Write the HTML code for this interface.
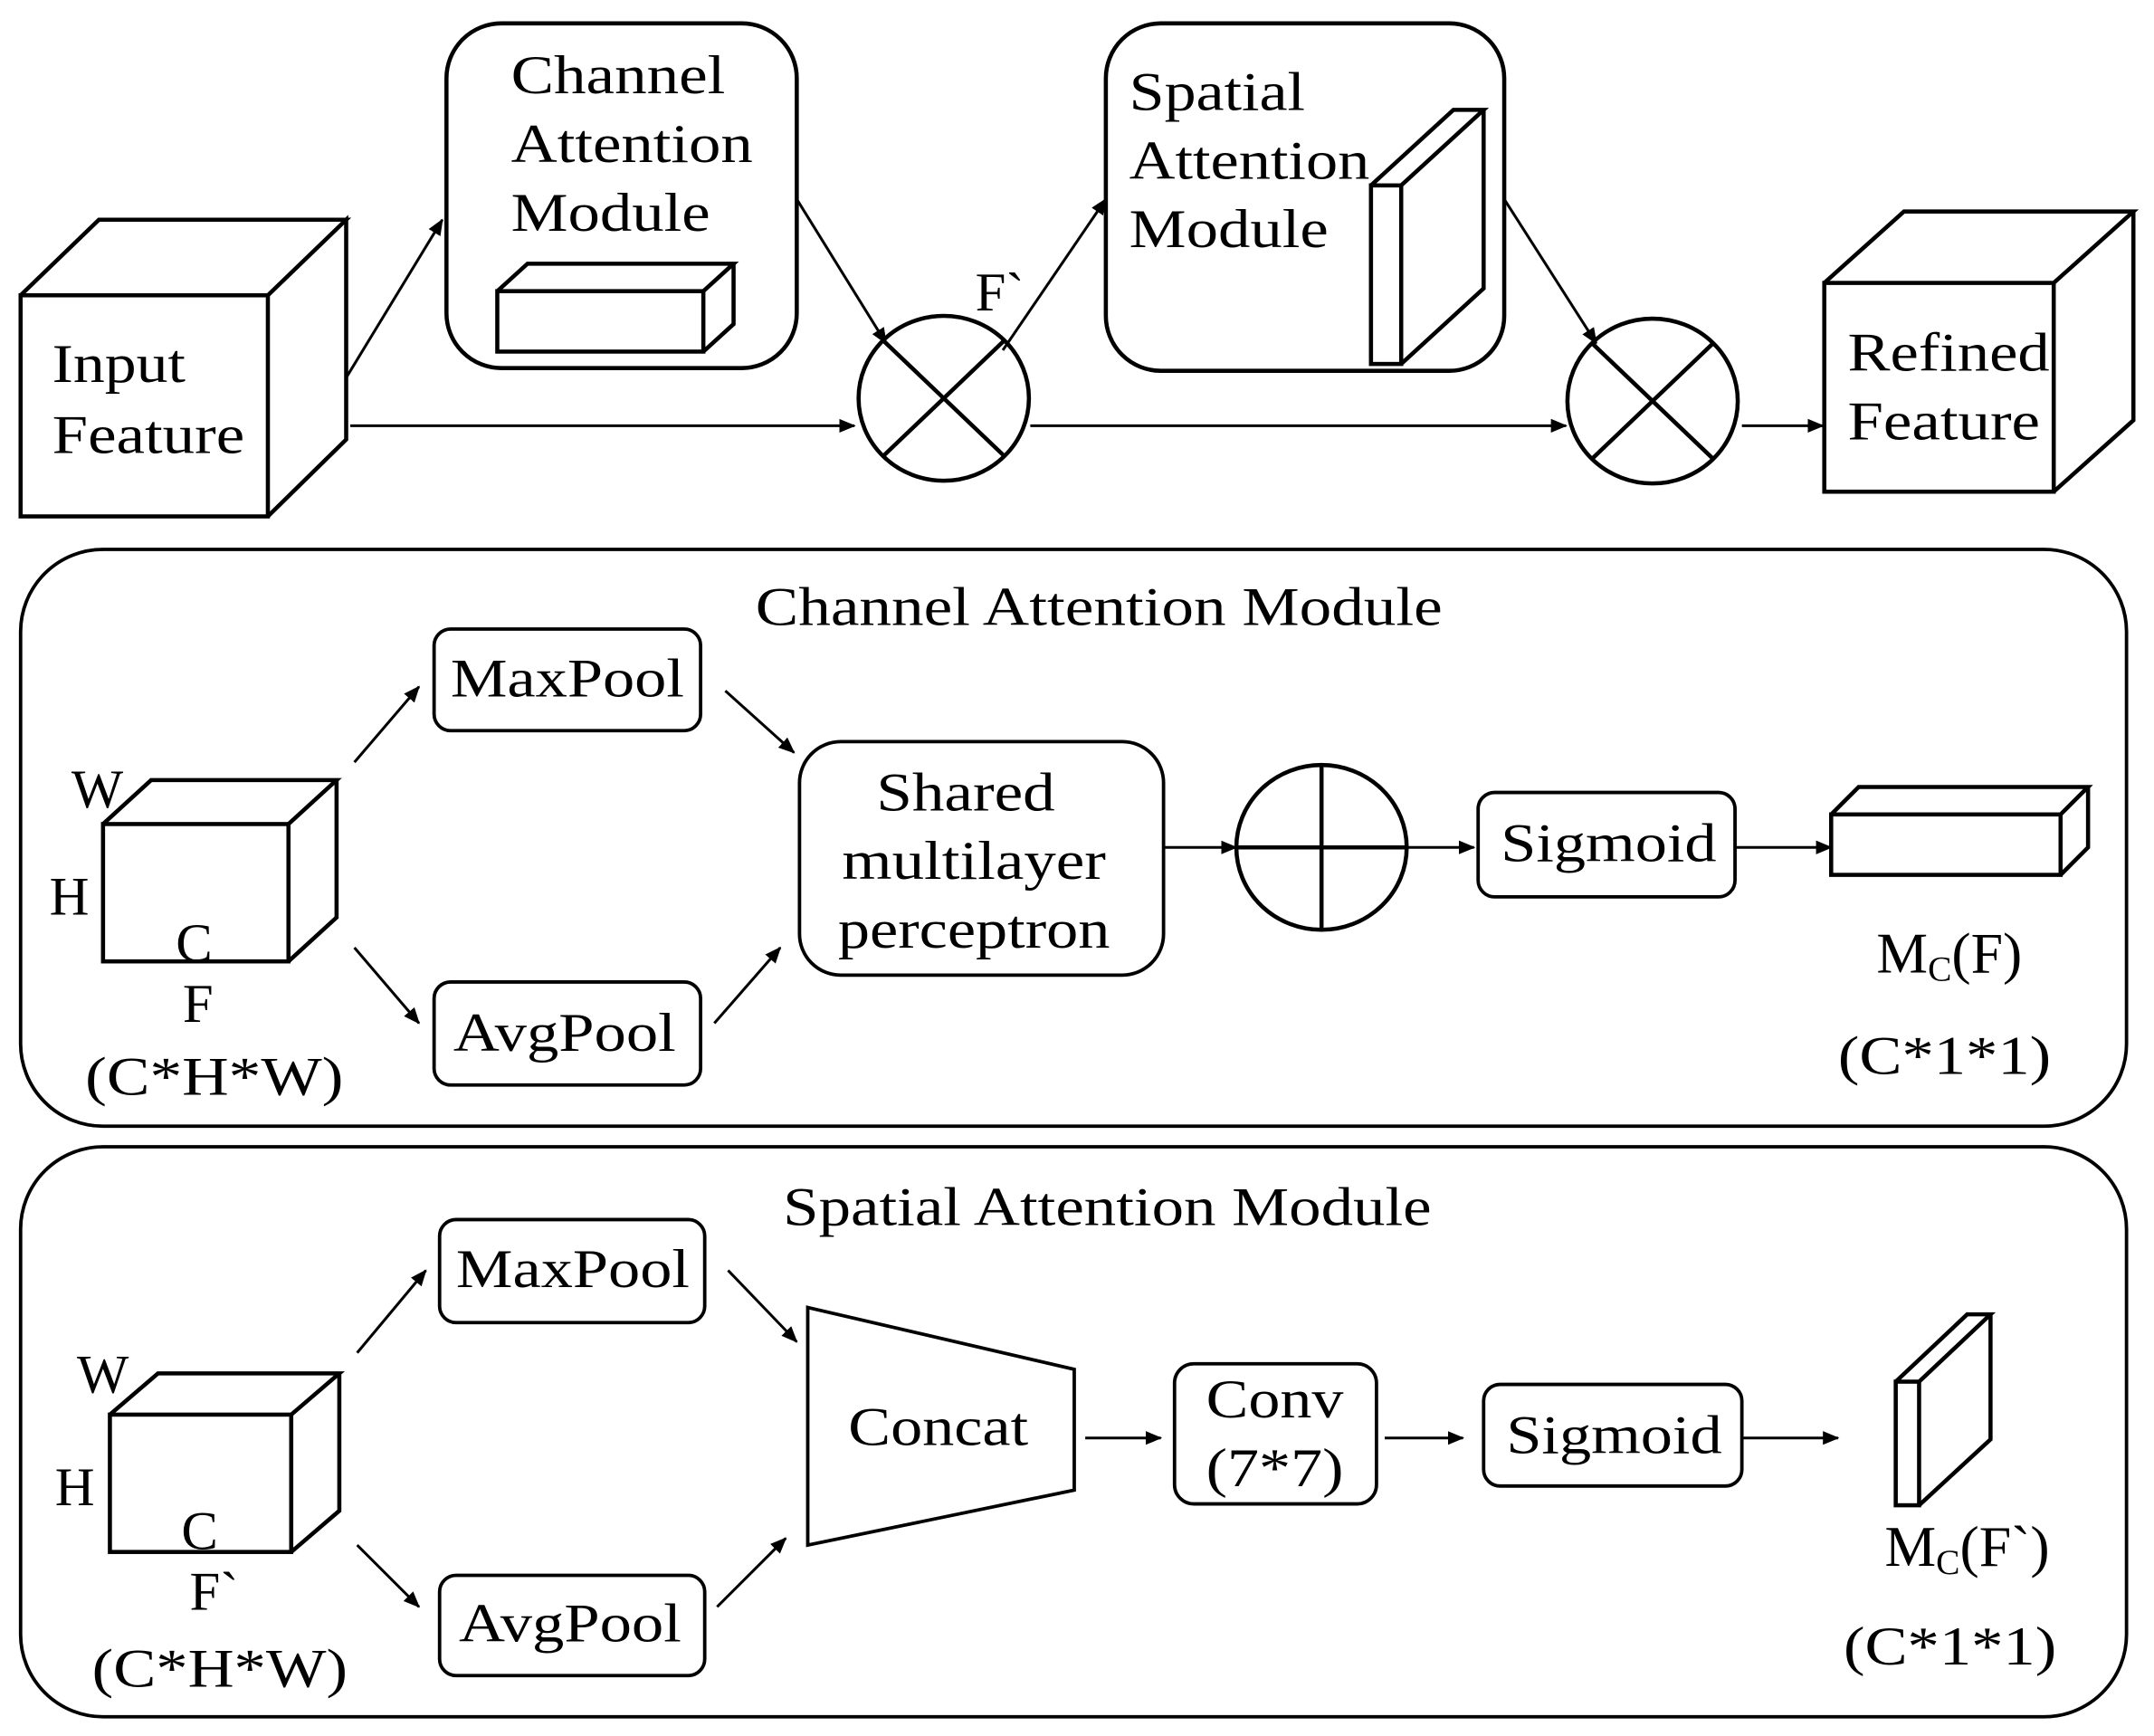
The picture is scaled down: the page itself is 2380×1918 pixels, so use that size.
<!DOCTYPE html>
<html><head><meta charset="utf-8"><style>
html,body{margin:0;padding:0;background:#fff;width:2380px;height:1918px;overflow:hidden}
svg{display:block}
text{font-family:"Liberation Serif",serif;fill:#000}
</style></head><body>
<svg width="2380" height="1918" viewBox="0 0 1568 1264" preserveAspectRatio="none" xmlns="http://www.w3.org/2000/svg">
<defs><marker id="a" markerWidth="12" markerHeight="12" refX="11" refY="6" orient="auto" markerUnits="userSpaceOnUse" viewBox="0 0 12 12"><path d="M0,1 L12,6 L0,11 z" fill="#000"/></marker></defs>
<g fill="none" stroke="#000" stroke-width="3">
<rect x="15" y="215" width="180" height="161" fill="#fff"/>
<path d="M15,215 L72,160 L252,160 L195,215 M195,215 L252,160 L252,320 L195,376"/>
<rect x="325" y="17" width="255" height="251" rx="40"/>
<rect x="362" y="212" width="150" height="44"/>
<path d="M362,212 L384,192 L534,192 L512,212 M512,256 L534,236 L534,192"/>
<rect x="805" y="17" width="290" height="253" rx="40"/>
<rect x="998" y="135" width="22" height="130"/>
<path d="M998,135 L1058,80 L1080,80 L1020,135 M1080,80 L1080,210 L1020,265"/>
<rect x="1328" y="206" width="167" height="152"/>
<path d="M1328,206 L1386,154 L1553,154 L1495,206 M1553,154 L1553,306 L1495,358"/>
<ellipse cx="687" cy="290" rx="62" ry="60"/>
<path d="M643,248 L731,332 M731,248 L643,332"/>
<ellipse cx="1203" cy="292" rx="62" ry="60"/>
<path d="M1159,250 L1247,334 M1247,250 L1159,334"/>
</g>
<g stroke="#000" stroke-width="2" fill="none" marker-end="url(#a)">
<path d="M252,275 L322,160"/><path d="M255,310 L622,310"/>
<path d="M580,145 L645,250"/><path d="M730,255 L805,145"/>
<path d="M750,310 L1140,310"/><path d="M1095,145 L1162,250"/>
<path d="M1268,310 L1327,310"/>
</g>
<g font-size="40">
<text x="38" y="278" textLength="97" lengthAdjust="spacingAndGlyphs">Input</text><text x="38" y="330" textLength="140" lengthAdjust="spacingAndGlyphs">Feature</text>
<text x="372" y="68" textLength="156" lengthAdjust="spacingAndGlyphs">Channel</text><text x="372" y="118" textLength="176" lengthAdjust="spacingAndGlyphs">Attention</text><text x="372" y="168" textLength="145" lengthAdjust="spacingAndGlyphs">Module</text>
<text x="822" y="80" textLength="128" lengthAdjust="spacingAndGlyphs">Spatial</text><text x="822" y="130" textLength="175" lengthAdjust="spacingAndGlyphs">Attention</text><text x="822" y="180" textLength="145" lengthAdjust="spacingAndGlyphs">Module</text>
<text x="710" y="226">F`</text>
<text x="1345" y="270" textLength="147" lengthAdjust="spacingAndGlyphs">Refined</text><text x="1345" y="320" textLength="140" lengthAdjust="spacingAndGlyphs">Feature</text>
</g>
<g fill="none" stroke="#000" stroke-width="3">
<rect x="15" y="400" width="1533" height="420" rx="60" stroke-width="2.5"/>
<rect x="75" y="600" width="135" height="100"/>
<path d="M75,600 L110,568 L245,568 L210,600 M245,568 L245,668 L210,700"/>
<rect x="316" y="458" width="194" height="74" rx="12" stroke-width="2.5"/>
<rect x="316" y="715" width="194" height="75" rx="12" stroke-width="2.5"/>
<rect x="582" y="540" width="265" height="170" rx="30" stroke-width="2.5"/>
<ellipse cx="962" cy="617" rx="62" ry="60"/>
<path d="M900,617 L1024,617 M962,557 L962,677"/>
<rect x="1076" y="577" width="187" height="76" rx="12" stroke-width="2.5"/>
<rect x="1333" y="593" width="167" height="44"/>
<path d="M1333,593 L1353,573 L1520,573 L1500,593 M1520,573 L1520,617 L1500,637"/>
</g>
<g stroke="#000" stroke-width="2" fill="none" marker-end="url(#a)">
<path d="M258,555 L305,500"/><path d="M258,690 L305,745"/>
<path d="M528,503 L578,548"/><path d="M520,745 L568,690"/>
<path d="M847,617 L900,617"/><path d="M1024,617 L1073,617"/><path d="M1263,617 L1333,617"/>
</g>
<g font-size="40">
<text x="800" y="455" text-anchor="middle" textLength="500" lengthAdjust="spacingAndGlyphs">Channel Attention Module</text>
<text x="52" y="588">W</text><text x="36" y="666">H</text><text x="128" y="700">C</text>
<text x="133" y="744">F</text><text x="62" y="797" textLength="188" lengthAdjust="spacingAndGlyphs">(C*H*W)</text>
<text x="413" y="507" text-anchor="middle" textLength="170" lengthAdjust="spacingAndGlyphs">MaxPool</text><text x="411" y="765" text-anchor="middle" textLength="162" lengthAdjust="spacingAndGlyphs">AvgPool</text>
<text x="703" y="590" text-anchor="middle" textLength="130" lengthAdjust="spacingAndGlyphs">Shared</text><text x="709" y="640" text-anchor="middle" textLength="192" lengthAdjust="spacingAndGlyphs">multilayer</text><text x="709" y="690" text-anchor="middle" textLength="198" lengthAdjust="spacingAndGlyphs">perceptron</text>
<text x="1171" y="627" text-anchor="middle" textLength="157" lengthAdjust="spacingAndGlyphs">Sigmoid</text>
<text x="1366" y="708" font-size="42">M<tspan font-size="26" dy="6">C</tspan><tspan dy="-6">(F)</tspan></text>
<text x="1338" y="782" textLength="155" lengthAdjust="spacingAndGlyphs">(C*1*1)</text>
</g>
<g fill="none" stroke="#000" stroke-width="3">
<rect x="15" y="835" width="1533" height="415" rx="60" stroke-width="2.5"/>
<rect x="80" y="1030" width="132" height="100"/>
<path d="M80,1030 L115,1000 L247,1000 L212,1030 M247,1000 L247,1100 L212,1130"/>
<rect x="320" y="888" width="193" height="75" rx="12" stroke-width="2.5"/>
<rect x="320" y="1147" width="193" height="73" rx="12" stroke-width="2.5"/>
<path d="M588,952 L782,997 L782,1085 L588,1125 Z" stroke-width="2.5"/>
<rect x="855" y="993" width="147" height="102" rx="14" stroke-width="2.5"/>
<rect x="1080" y="1008" width="188" height="74" rx="12" stroke-width="2.5"/>
<rect x="1380" y="1006" width="17" height="90"/>
<path d="M1380,1006 L1432,957 L1449,957 L1397,1006 M1449,957 L1449,1048 L1397,1096"/>
</g>
<g stroke="#000" stroke-width="2" fill="none" marker-end="url(#a)">
<path d="M260,985 L310,925"/><path d="M260,1125 L305,1170"/>
<path d="M530,925 L580,977"/><path d="M522,1170 L572,1120"/>
<path d="M790,1047 L845,1047"/><path d="M1008,1047 L1065,1047"/><path d="M1268,1047 L1338,1047"/>
</g>
<g font-size="40">
<text x="806" y="892" text-anchor="middle" textLength="472" lengthAdjust="spacingAndGlyphs">Spatial Attention Module</text>
<text x="56" y="1014">W</text><text x="40" y="1096">H</text><text x="132" y="1128">C</text>
<text x="138" y="1172">F`</text><text x="67" y="1228" textLength="186" lengthAdjust="spacingAndGlyphs">(C*H*W)</text>
<text x="417" y="937" text-anchor="middle" textLength="170" lengthAdjust="spacingAndGlyphs">MaxPool</text><text x="415" y="1195" text-anchor="middle" textLength="162" lengthAdjust="spacingAndGlyphs">AvgPool</text>
<text x="683" y="1052" text-anchor="middle" textLength="131" lengthAdjust="spacingAndGlyphs">Concat</text>
<text x="928" y="1032" text-anchor="middle" textLength="100" lengthAdjust="spacingAndGlyphs">Conv</text><text x="928" y="1082" text-anchor="middle" textLength="100" lengthAdjust="spacingAndGlyphs">(7*7)</text>
<text x="1175" y="1058" text-anchor="middle" textLength="157" lengthAdjust="spacingAndGlyphs">Sigmoid</text>
<text x="1372" y="1140" font-size="42">M<tspan font-size="26" dy="6">C</tspan><tspan dy="-6">(F`)</tspan></text>
<text x="1342" y="1212" textLength="155" lengthAdjust="spacingAndGlyphs">(C*1*1)</text>
</g>
</svg>
</body></html>
